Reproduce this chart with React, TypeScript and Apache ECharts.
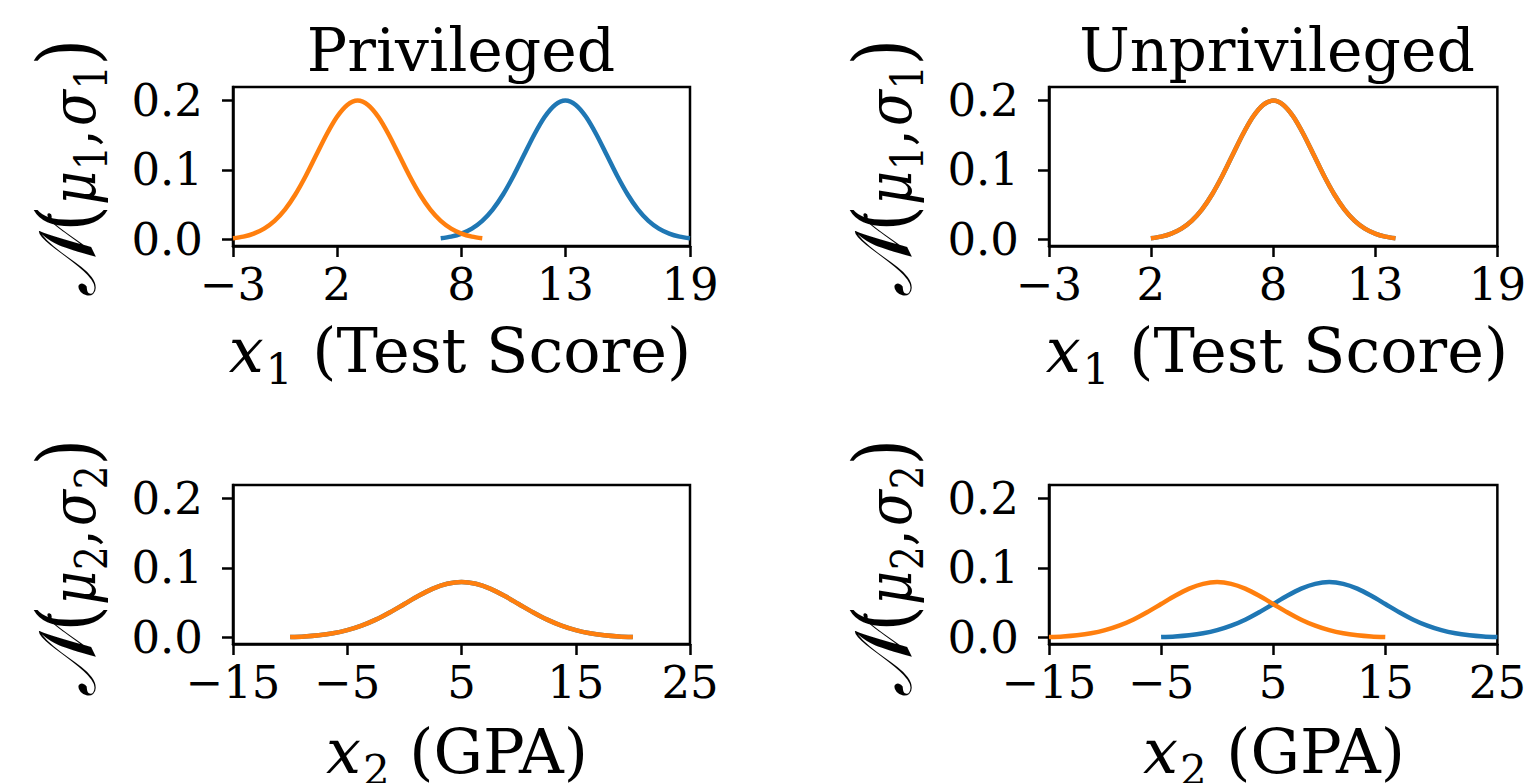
import React, { useEffect, useRef } from 'react';
import * as echarts from 'echarts';

// ---------- data ----------
// density values of the narrow (test score) curves, sampled every 0.5 units
const testScoreDensity = [
  0.0022, 0.0045, 0.0088, 0.0159, 0.027, 0.0431, 0.0648, 0.0913, 0.121, 0.1506, 0.176, 0.1933, 0.1995,
  0.1933, 0.176, 0.1506, 0.121, 0.0913, 0.0648, 0.0431, 0.027, 0.0159, 0.0088, 0.0045, 0.0022,
];
// density values of the wide (GPA) curves, sampled every 1.25 units
const gpaDensity = [
  0.0009, 0.0018, 0.0035, 0.0063, 0.0108, 0.0173, 0.0259, 0.0365, 0.0484, 0.0602, 0.0704, 0.0773, 0.0798,
  0.0773, 0.0704, 0.0602, 0.0484, 0.0365, 0.0259, 0.0173, 0.0108, 0.0063, 0.0035, 0.0018, 0.0009,
];

const privTestBlueX = [7, 7.5, 8, 8.5, 9, 9.5, 10, 10.5, 11, 11.5, 12, 12.5, 13, 13.5, 14, 14.5, 15, 15.5, 16, 16.5, 17, 17.5, 18, 18.5, 19];
const privTestOrangeX = [-3, -2.5, -2, -1.5, -1, -0.5, 0, 0.5, 1, 1.5, 2, 2.5, 3, 3.5, 4, 4.5, 5, 5.5, 6, 6.5, 7, 7.5, 8, 8.5, 9];
const unprivTestX = [2, 2.5, 3, 3.5, 4, 4.5, 5, 5.5, 6, 6.5, 7, 7.5, 8, 8.5, 9, 9.5, 10, 10.5, 11, 11.5, 12, 12.5, 13, 13.5, 14];
const privGpaX = [-10, -8.75, -7.5, -6.25, -5, -3.75, -2.5, -1.25, 0, 1.25, 2.5, 3.75, 5, 6.25, 7.5, 8.75, 10, 11.25, 12.5, 13.75, 15, 16.25, 17.5, 18.75, 20];
const unprivGpaOrangeX = [-15, -13.75, -12.5, -11.25, -10, -8.75, -7.5, -6.25, -5, -3.75, -2.5, -1.25, 0, 1.25, 2.5, 3.75, 5, 6.25, 7.5, 8.75, 10, 11.25, 12.5, 13.75, 15];
const unprivGpaBlueX = [-5, -3.75, -2.5, -1.25, 0, 1.25, 2.5, 3.75, 5, 6.25, 7.5, 8.75, 10, 11.25, 12.5, 13.75, 15, 16.25, 17.5, 18.75, 20, 21.25, 22.5, 23.75, 25];

const testTicks = [-3, 2, 8, 13, 19];
const gpaTicks = [-15, -5, 5, 15, 25];
const yTicks = [0, 0.1, 0.2];
const panelTitles = ['Privileged', 'Unprivileged'];

// ---------- styling ----------
const BLUE = '#1f77b4';
const ORANGE = '#ff7f0e';
const FONT = 'DejaVu Serif';
const TICK_FS = 45;

const zip = (xs: number[], ys: number[]) => xs.map((x, i) => [x, ys[i]]);

export default function App() {
  const ref = useRef<HTMLDivElement>(null);
  useEffect(() => {
    if (!ref.current) return;
    const chart = echarts.init(ref.current, undefined, { renderer: 'svg' });

    const grids = [
      { left: 233, top: 87, width: 457, height: 159 },
      { left: 1049, top: 87, width: 457, height: 159 },
      { left: 233, top: 485, width: 457, height: 159 },
      { left: 1049, top: 485, width: 457, height: 159 },
    ].map((g) => ({ ...g, show: true, borderColor: '#000', borderWidth: 2.5, backgroundColor: 'transparent' }));

    const fmtNum = (v: number) => (v < 0 ? '\u2212' + Math.abs(v) : String(v));

    const xAxes = [0, 1, 2, 3].map((i) => {
      const ticks = i < 2 ? testTicks : gpaTicks;
      return {
        type: 'value',
        gridIndex: i,
        min: ticks[0],
        max: ticks[ticks.length - 1],
        axisLine: { show: true, onZero: false, lineStyle: { color: '#000', width: 2.5 } },
        axisTick: { show: true, length: 11, customValues: ticks, lineStyle: { color: '#000', width: 2.5 } },
        axisLabel: {
          customValues: ticks,
          formatter: fmtNum,
          fontFamily: FONT,
          fontSize: TICK_FS,
          color: '#000',
          margin: 16,
          showMinLabel: true,
          showMaxLabel: true,
        },
        splitLine: { show: false },
      };
    });

    const yAxes = [0, 1, 2, 3].map((i) => ({
      type: 'value',
      gridIndex: i,
      min: -0.009,
      max: 0.219,
      axisLine: { show: true, onZero: false, lineStyle: { color: '#000', width: 2.5 } },
      axisTick: { show: true, length: 11, customValues: yTicks, lineStyle: { color: '#000', width: 2.5 } },
      axisLabel: {
        customValues: yTicks,
        formatter: (v: number) => v.toFixed(1),
        fontFamily: FONT,
        fontSize: TICK_FS,
        color: '#000',
        margin: 30,
      },
      splitLine: { show: false },
    }));

    const line = (idx: number, color: string, xs: number[], ys: number[], z: number) => ({
      type: 'line',
      xAxisIndex: idx,
      yAxisIndex: idx,
      data: zip(xs, ys),
      smooth: 0.3,
      showSymbol: false,
      symbol: 'none',
      z,
      lineStyle: { color, width: 4.5 },
      itemStyle: { color },
    });

    const series = [
      line(0, BLUE, privTestBlueX, testScoreDensity, 2),
      line(0, ORANGE, privTestOrangeX, testScoreDensity, 3),
      line(1, BLUE, unprivTestX, testScoreDensity, 2),
      line(1, ORANGE, unprivTestX, testScoreDensity, 3),
      line(2, BLUE, privGpaX, gpaDensity, 2),
      line(2, ORANGE, privGpaX, gpaDensity, 3),
      line(3, BLUE, unprivGpaBlueX, gpaDensity, 2),
      line(3, ORANGE, unprivGpaOrangeX, gpaDensity, 3),
    ];

    const labelRich = {
      i: { fontFamily: FONT, fontStyle: 'italic', fontSize: 62, lineHeight: 62, color: '#000' },
      t: { fontFamily: FONT, fontSize: 62, lineHeight: 62, color: '#000' },
      s: { fontFamily: FONT, fontSize: 42, lineHeight: 20, verticalAlign: 'top', padding: [29, 0, 0, 2], color: '#000' },
    };
    const yRich = {
      n: { fontFamily: FONT, fontStyle: 'italic', fontSize: 80, lineHeight: 80, color: '#000' },
      p: { fontFamily: FONT, fontSize: 80, lineHeight: 80, color: '#000' },
      i: { fontFamily: FONT, fontStyle: 'italic', fontSize: 62, lineHeight: 20, verticalAlign: 'top', padding: [15, 0, 0, 0], color: '#000' },
      c: { fontFamily: FONT, fontSize: 62, lineHeight: 20, verticalAlign: 'top', padding: [15, 4, 0, 0], color: '#000' },
      s: { fontFamily: FONT, fontSize: 44, lineHeight: 20, verticalAlign: 'top', padding: [42, 0, 0, 1], color: '#000' },
    };

    const xLabel = (cx: number, cy: number, sub: string, rest: string) => ({
      type: 'text',
      x: cx,
      y: cy,
      style: {
        text: `{i|x}{s|${sub}}{t| ${rest}}`,
        rich: labelRich,
        align: 'center',
        verticalAlign: 'middle',
      },
    });
    const yLabel = (cx: number, cy: number, sub: string) => ({
      type: 'text',
      x: cx,
      y: cy,
      rotation: Math.PI / 2,
      scaleX: 0.85,
      style: {
        text: `{n|\u{1D4A9}}{p|(}{i|\u03BC}{s|${sub}}{c|,}{i|\u03C3}{s|${sub}}{p|)}`,
        rich: yRich,
        align: 'center',
        verticalAlign: 'middle',
      },
    });
    const title = (cx: number, text: string) => ({
      type: 'text',
      x: cx,
      y: 50,
      style: { text, fontFamily: FONT, fontSize: 60, fill: '#000', align: 'center', verticalAlign: 'middle' },
    });

    const graphic = [
      title(461, panelTitles[0]),
      title(1277, panelTitles[1]),
      xLabel(460, 350, '1', '(Test Score)'),
      xLabel(1277, 350, '1', '(Test Score)'),
      xLabel(457, 751, '2', '(GPA)'),
      xLabel(1274, 751, '2', '(GPA)'),
      yLabel(68, 168, '1'),
      yLabel(884, 168, '1'),
      yLabel(68, 568, '2'),
      yLabel(884, 568, '2'),
    ];

    chart.setOption({
      animation: false,
      backgroundColor: '#fff',
      grid: grids,
      xAxis: xAxes,
      yAxis: yAxes,
      series,
      graphic,
    });
    return () => chart.dispose();
  }, []);

  return (
    <div
      ref={ref}
      style={{ position: 'fixed', left: 0, top: 0, width: 1529, height: 783, background: '#fff' }}
    />
  );
}
